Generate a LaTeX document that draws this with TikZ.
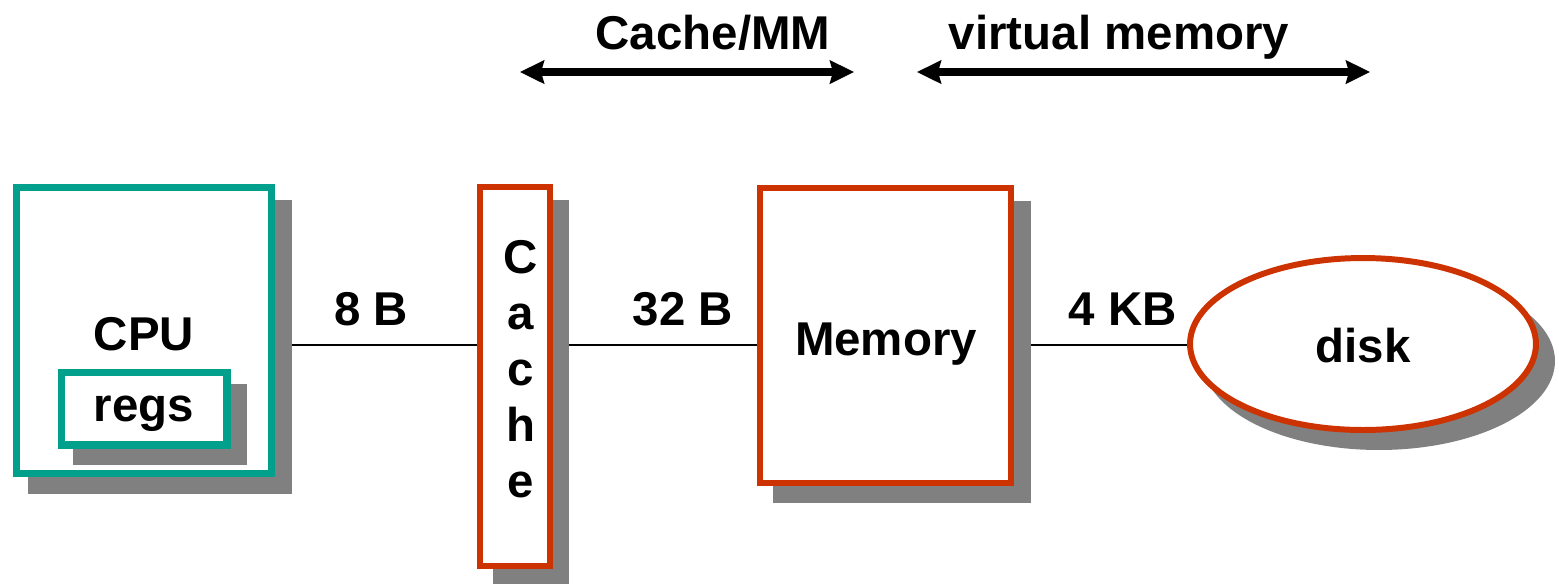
\documentclass[tikz,border=0pt]{standalone}
\usepackage{fontspec}
\setmainfont{Liberation Sans}
\usetikzlibrary{arrows.meta,shapes.geometric}
\definecolor{cputeal}{HTML}{00A08C}
\definecolor{memred}{HTML}{CC3300}
\definecolor{shade}{HTML}{808080}
\begin{document}
\begin{tikzpicture}[x=0.02cm,y=-0.02cm,
  lbl/.style={font=\fontsize{27}{32}\selectfont\bfseries, inner sep=0pt},
  tealbox/.style={rectangle, draw=cputeal, line width=4pt, fill=white, inner sep=0pt},
  redbox/.style={rectangle, draw=memred, line width=3.4pt, fill=white, inner sep=0pt},
  shadowbox/.style={rectangle, fill=shade, inner sep=0pt, outer sep=0pt},
  wire/.style={line width=1.1pt},
  spanarrow/.style={line width=4pt,
    {Stealth[length=0.48cm,width=0.46cm,inset=0.06cm]}-{Stealth[length=0.48cm,width=0.46cm,inset=0.06cm]}}]
\useasboundingbox (0,0) rectangle (1559,583);

% range arrows along the top
\coordinate (cm-l) at (520,72);
\coordinate (cm-r) at (854,72);
\coordinate (vm-l) at (917,72);
\coordinate (vm-r) at (1370,72);
\draw[spanarrow] (cm-l) -- (cm-r);
\draw[spanarrow] (vm-l) -- (vm-r);
\node[lbl, anchor=base] (cm-label) at (713,49) {Cache/MM};
\node[lbl, anchor=base] (vm-label) at (1119,49) {virtual memory};

% CPU with its registers
\node[shadowbox, minimum width=5.28cm, minimum height=5.90cm] (cpu-sh) at (160,347) {};
\node[tealbox, minimum width=5.12cm, minimum height=5.74cm] (cpu) at (144,330.5) {};
\node[lbl, anchor=base] (cpu-label) at (144,350) {CPU};
\node[shadowbox, minimum width=3.48cm, minimum height=1.62cm] (regs-sh) at (160,424.5) {};
\node[tealbox, minimum width=3.32cm, minimum height=1.46cm] (regs) at (144,408.5) {};
\node[lbl, anchor=base] (regs-label) at (144,421) {regs};

% cache column
\node[shadowbox, minimum width=1.52cm, minimum height=7.70cm] (cache-sh) at (531,392.5) {};
\node[redbox, minimum width=1.40cm, minimum height=7.58cm] (cache) at (515,376.5) {};
\foreach \ch/\yy [count=\i] in {C/273,a/329,c/385,h/441,e/497}
  \node[lbl, anchor=base] (cache-\i) at (521,\yy) {\ch};

% main memory
\node[shadowbox, minimum width=5.18cm, minimum height=6.04cm] (mem-sh) at (902,352) {};
\node[redbox, minimum width=5.02cm, minimum height=5.90cm] (mem) at (885.5,335.5) {};
\node[lbl, anchor=base] (mem-label) at (886,355) {Memory};

% disk
\node[ellipse, fill=shade, inner sep=0pt, outer sep=0pt, minimum width=7.04cm, minimum height=3.56cm] (disk-sh) at (1379,361) {};
\node[ellipse, draw=memred, line width=3.4pt, fill=white, inner sep=0pt, minimum width=6.92cm, minimum height=3.44cm] (disk) at (1363,344) {};
\node[lbl, anchor=base] (disk-label) at (1363,362) {disk};

% buses with their transfer sizes
\coordinate (busline) at (0,345);
\draw[wire] (cpu-sh.east |- busline) -- (cache.west |- busline);
\draw[wire] (cache-sh.east |- busline) -- (mem.west |- busline);
\draw[wire] (mem-sh.east |- busline) -- (disk.west |- busline);
\node[lbl, anchor=base] (bus1-label) at (371,325) {8 B};
\node[lbl, anchor=base] (bus2-label) at (683,325) {32 B};
\node[lbl, anchor=base] (bus3-label) at (1123,325) {4 KB};
\end{tikzpicture}
\end{document}
